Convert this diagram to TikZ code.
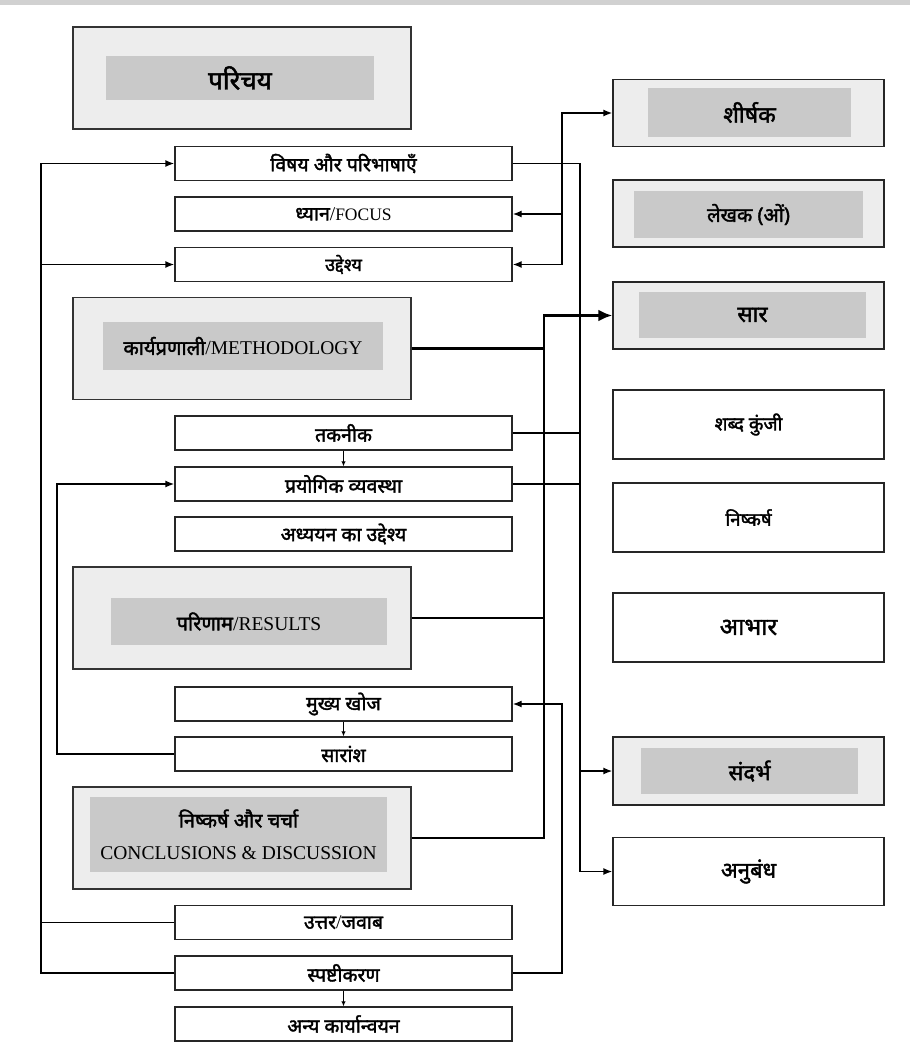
\documentclass[tikz,border=0pt]{standalone}
\usepackage{fontspec}
\setmainfont{Liberation Serif}
\newfontfamily\hindi[Script=Devanagari, FakeBold=1.8]{Noto Sans}
\newcommand{\hi}[1]{{\hindi #1}}
\newcommand{\fs}[1]{\fontsize{#1}{#1}\selectfont}
\usetikzlibrary{arrows.meta}

\begin{document}
\begin{tikzpicture}[x=1pt,y=-1pt,
  smallbox/.style={draw=black!85, line width=1.4pt, fill=white, minimum width=337pt, minimum height=34pt, inner sep=0pt, font=\fs{19.5}},
  bigbox/.style={draw=black!80, line width=1.4pt, fill=black!7, minimum width=338pt, minimum height=102pt, inner sep=0pt},
  sidebox/.style={draw=black!85, line width=1.4pt, fill=white, minimum width=271pt, minimum height=67pt, inner sep=0pt, font=\fs{22}},
  innerbox/.style={fill=black!21, inner sep=0pt, font=\fs{20}},
  conn/.style={line width=1.4pt, black},
  link/.style={line width=2.8pt, black},
  tip/.style={-{Latex[length=9pt,width=7pt]}},
  bigtip/.style={-{Latex[length=14pt,width=12pt]}},
  smalltip/.style={-{Latex[length=5pt,width=4.5pt]}}]
  \useasboundingbox (0,0) rectangle (910,1054);
  \fill[black!18] (0,0) rectangle (910,5);

  % left column
  \node[bigbox] (intro) at (242,78) {};
  \node[innerbox, minimum width=268pt, minimum height=44pt, font=\fs{26}] (intro-in) at (240,78) {\hi{परिचय}};
  \node[smallbox] (subj) at (343.5,163.5) {\hi{विषय और परिभाषाएँ}};
  \node[smallbox] (focus) at (343.5,214) {\hi{ध्यान}/{\fs{17.5}FOCUS}};
  \node[smallbox, font=\fs{18}] (aim) at (343.5,264.5) {\hi{उद्देश्य}};
  \node[bigbox] (method) at (242,348.5) {};
  \node[innerbox, minimum width=280pt, minimum height=48pt] (method-in) at (243,346) {\hi{कार्यप्रणाली}/{\fs{19.5}METHODOLOGY}};
  \node[smallbox] (tech) at (343.5,433) {\hi{तकनीक}};
  \node[smallbox] (setup) at (343.5,484) {\hi{प्रयोगिक व्यवस्था}};
  \node[smallbox] (studyaim) at (343.5,534) {\hi{अध्ययन का उद्देश्य}};
  \node[bigbox] (results) at (242,618) {};
  \node[innerbox, minimum width=276pt, minimum height=47pt] (results-in) at (249,621.5) {\hi{परिणाम}/{\fs{19.5}RESULTS}};
  \node[smallbox] (findings) at (343.5,704) {\hi{मुख्य खोज}};
  \node[smallbox] (summary) at (343.5,754) {\hi{सारांश}};
  \node[bigbox] (concl) at (242,838) {};
  \node[innerbox, minimum width=297pt, minimum height=75pt, align=center] (concl-in) at (238.5,834.5)
    {\hi{निष्कर्ष और चर्चा}\\[12pt]{\fs{19.5}CONCLUSIONS \& DISCUSSION}};
  \node[smallbox] (answer) at (343.5,922.5) {\hi{उत्तर}/\hi{जवाब}};
  \node[smallbox] (explain) at (343.5,973) {\hi{स्पष्टीकरण}};
  \node[smallbox] (otherimpl) at (343.5,1024) {\hi{अन्य कार्यान्वयन}};

  % right column
  \node[sidebox, fill=black!7] (title) at (748.5,113) {};
  \node[innerbox, minimum width=203pt, minimum height=48pt, font=\fs{23}] (title-in) at (749.5,112.5) {\hi{शीर्षक}};
  \node[sidebox, fill=black!7] (authors) at (748.5,213.5) {};
  \node[innerbox, minimum width=229pt, minimum height=47pt] (authors-in) at (748.5,214.5) {\hi{लेखक (ओं)}};
  \node[sidebox, fill=black!7] (abstract) at (748.5,315.5) {};
  \node[innerbox, minimum width=227pt, minimum height=46pt, font=\fs{22.5}] (abstract-in) at (752.5,315) {\hi{सार}};
  \node[sidebox, minimum height=69pt, font=\fs{19}] (keywords) at (748.5,424.5) {\hi{शब्द कुंजी}};
  \node[sidebox, minimum height=69pt, font=\fs{18.5}] (concl2) at (748.5,517.5) {\hi{निष्कर्ष}};
  \node[sidebox, minimum height=69pt, font=\fs{24}] (ack) at (748.5,627.5) {\hi{आभार}};
  \node[sidebox, minimum height=68pt, fill=black!7] (refs) at (748.5,771) {};
  \node[innerbox, minimum width=217pt, minimum height=46pt, font=\fs{22}] (refs-in) at (749.5,771) {\hi{संदर्भ}};
  \node[sidebox, minimum height=68pt] (appendix) at (748.5,871.5) {\hi{अनुबंध}};

  % guide lines
  \coordinate (lx) at (41,0);
  \coordinate (ix) at (57,0);
  \coordinate (tx) at (544,0);
  \coordinate (mx) at (562,0);
  \coordinate (rx) at (580,0);

  % outer left loop
  \draw[conn,tip] (explain.west) -- (explain.west -| lx) |- (subj.west);
  \draw[conn,tip] (aim.west -| lx) -- (aim.west);
  \draw[conn] (answer.west) -- (answer.west -| lx);
  % inner left loop
  \draw[conn,tip] (summary.west) -- (summary.west -| ix) |- (setup.west);
  % to title, focus, aim
  \draw[conn,tip] (aim.east -| mx) |- (title.west);
  \draw[conn,tip] (aim.east -| mx) -- (aim.east);
  \draw[conn,tip] (focus.east -| mx) -- (focus.east);
  % subject line down to refs and appendix
  \draw[conn,tip] (subj.east) -- (subj.east -| rx) |- (appendix.west);
  \draw[conn,tip] (refs.west -| rx) -- (refs.west);
  \draw[conn] (tech.east) -- (tech.east -| rx);
  \draw[conn] (setup.east) -- (setup.east -| rx);
  % thick links to abstract
  \draw[link,bigtip] (concl.east) -- (concl.east -| tx) |- (abstract.west);
  \draw[link] (method.east) -- (method.east -| tx);
  \draw[link] (results.east) -- (results.east -| tx);
  % explanation back to findings
  \draw[conn,tip] (explain.east) -- (explain.east -| mx) |- (findings.east);
  % small steps
  \draw[conn,smalltip] (tech.south) -- (setup.north);
  \draw[conn,smalltip] (findings.south) -- (summary.north);
  \draw[conn,smalltip] (explain.south) -- (otherimpl.north);
\end{tikzpicture}
\end{document}
